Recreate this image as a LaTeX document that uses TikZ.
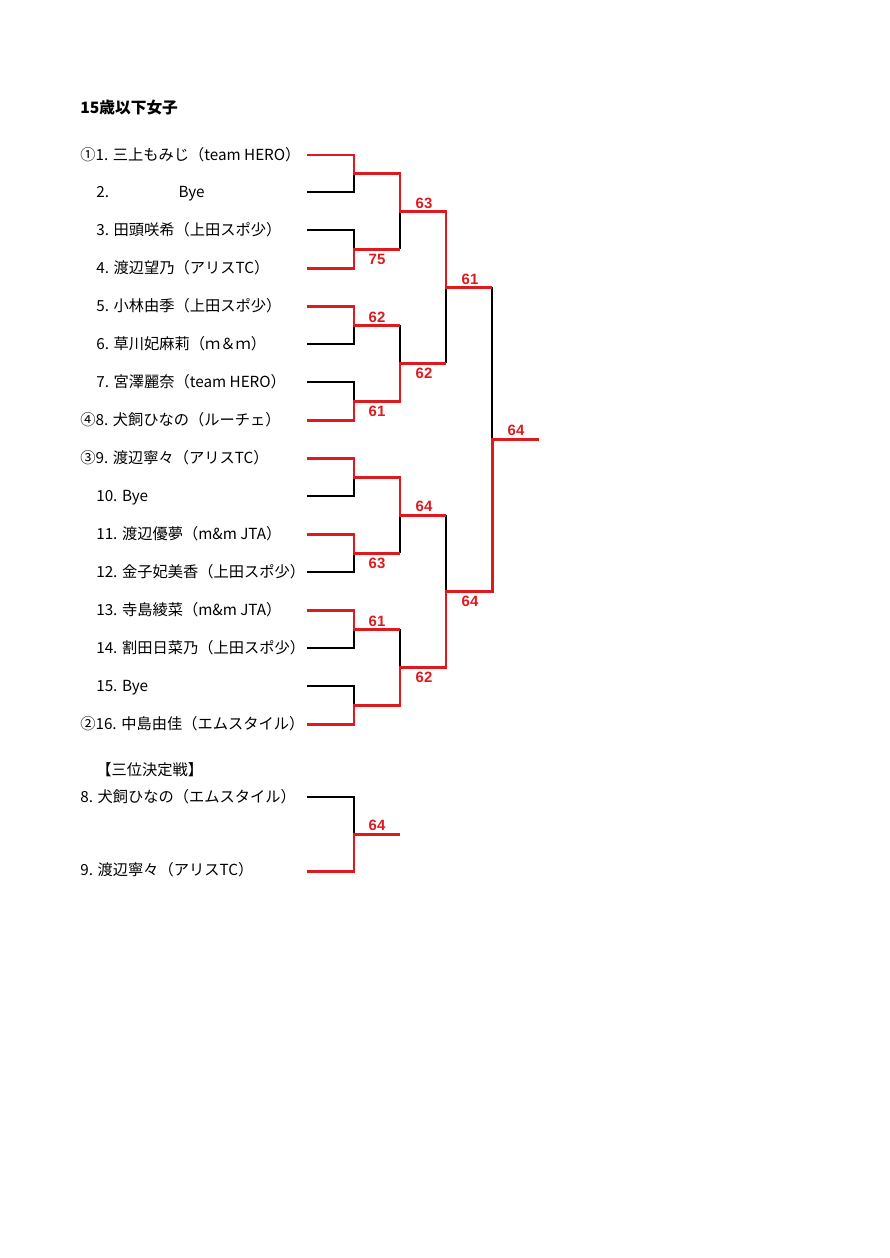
\documentclass[tikz,border=0pt]{standalone}
\usepackage{fontspec}
\setmainfont{Noto Sans CJK JP}
\newfontfamily\scorefont{Liberation Sans}
\definecolor{bracketred}{RGB}{222,26,30}
\begin{document}
\begin{tikzpicture}[x=0.6688pt,y=-0.6688pt,
  entry/.style={anchor=west,inner sep=0pt,text height=9pt,text depth=1.5pt,font=\fontsize{10.2}{12}\selectfont},
  score/.style={inner sep=0pt,text=bracketred,font=\scorefont\bfseries\fontsize{10}{11}\selectfont},
  win/.style={draw=bracketred,line width=2pt},
  lose/.style={draw=black,line width=0.8pt}]
\useasboundingbox (0,0) rectangle (890,1258);

\node[entry,font=\bfseries\fontsize{10.5}{12}\selectfont] (title) at (80,108) {15歳以下女子};

% player names
\node[entry] (p1) at (80,155) {①1. 三上もみじ（team HERO）};
\node[entry] (p2) at (96,192) {\makebox[55pt][l]{2.}Bye};
\node[entry] (p3) at (96,230) {3. 田頭咲希（上田スポ少）};
\node[entry] (p4) at (96,268) {4. 渡辺望乃（アリスTC）};
\node[entry] (p5) at (96,306) {5. 小林由季（上田スポ少）};
\node[entry] (p6) at (96,344) {6. 草川妃麻莉（ｍ＆ｍ）};
\node[entry] (p7) at (96,382) {7. 宮澤麗奈（team HERO）};
\node[entry] (p8) at (80,420) {④8. 犬飼ひなの（ルーチェ）};
\node[entry] (p9) at (80,458) {③9. 渡辺寧々（アリスTC）};
\node[entry] (p10) at (96,496) {10. Bye};
\node[entry] (p11) at (96,534) {11. 渡辺優夢（m\&m JTA）};
\node[entry] (p12) at (96,572) {12. 金子妃美香（上田スポ少）};
\node[entry] (p13) at (96,610) {13. 寺島綾菜（m\&m JTA）};
\node[entry] (p14) at (96,648) {14. 割田日菜乃（上田スポ少）};
\node[entry] (p15) at (96,686) {15. Bye};
\node[entry] (p16) at (80,724) {②16. 中島由佳（エムスタイル）};

% line starts
\coordinate (a1) at (307,155);
\coordinate (a2) at (307,192);
\coordinate (a3) at (307,230);
\coordinate (a4) at (307,268);
\coordinate (a5) at (307,306);
\coordinate (a6) at (307,344);
\coordinate (a7) at (307,382);
\coordinate (a8) at (307,420);
\coordinate (a9) at (307,458);
\coordinate (a10) at (307,496);
\coordinate (a11) at (307,534);
\coordinate (a12) at (307,572);
\coordinate (a13) at (307,610);
\coordinate (a14) at (307,648);
\coordinate (a15) at (307,686);
\coordinate (a16) at (307,724);

% round 1
\coordinate (r1) at (354,173.5); \coordinate (b1) at (400,173.5);
\coordinate (r2) at (354,249);   \coordinate (b2) at (400,249);
\coordinate (r3) at (354,325);   \coordinate (b3) at (400,325);
\coordinate (r4) at (354,401);   \coordinate (b4) at (400,401);
\coordinate (r5) at (354,477);   \coordinate (b5) at (400,477);
\coordinate (r6) at (354,553);   \coordinate (b6) at (400,553);
\coordinate (r7) at (354,629);   \coordinate (b7) at (400,629);
\coordinate (r8) at (354,705);   \coordinate (b8) at (400,705);
% round 2
\coordinate (q1) at (400,211); \coordinate (c1) at (446,211);
\coordinate (q2) at (400,363); \coordinate (c2) at (446,363);
\coordinate (q3) at (400,515); \coordinate (c3) at (446,515);
\coordinate (q4) at (400,667); \coordinate (c4) at (446,667);
% semis and final
\coordinate (s1) at (446,287); \coordinate (d1) at (492,287);
\coordinate (s2) at (446,591); \coordinate (d2) at (492,591);
\coordinate (f) at (492,439);  \coordinate (fe) at (539,439);

% losing lines
\draw[lose] (a2) -| (r1);
\draw[lose] (a3) -| (r2);
\draw[lose] (a6) -| (r3);
\draw[lose] (a7) -| (r4);
\draw[lose] (a10) -| (r5);
\draw[lose] (a12) -| (r6);
\draw[lose] (a14) -| (r7);
\draw[lose] (a15) -| (r8);
\draw[lose] (b2) -- (q1);
\draw[lose] (b3) -- (q2);
\draw[lose] (b6) -- (q3);
\draw[lose] (b7) -- (q4);
\draw[lose] (c2) -- (s1);
\draw[lose] (c3) -- (s2);
\draw[lose] (d1) -- (f);

% winning lines
\draw[win] (a1) -| (r1) -- (b1) -- (q1) -- (c1) -- (s1) -- (d1);
\draw[win] (a4) -| (r2) -- (b2);
\draw[win] (a5) -| (r3) -- (b3);
\draw[win] (a8) -| (r4) -- (b4) -- (q2) -- (c2);
\draw[win] (a9) -| (r5) -- (b5) -- (q3) -- (c3);
\draw[win] (a11) -| (r6) -- (b6);
\draw[win] (a13) -| (r7) -- (b7);
\draw[win] (a16) -| (r8) -- (b8) -- (q4) -- (c4) -- (s2) -- (d2) -- (f) -- (fe);

% scores
\node[score] (m2) at (377,259) {75};
\node[score] (m3) at (377,317) {62};
\node[score] (m4) at (377,411) {61};
\node[score] (m6) at (377,563) {63};
\node[score] (m7) at (377,621) {61};
\node[score] (n1) at (424,203) {63};
\node[score] (n2) at (424,373) {62};
\node[score] (n3) at (424,506) {64};
\node[score] (n4) at (424,677) {62};
\node[score] (sf1) at (470,279) {61};
\node[score] (sf2) at (470,601) {64};
\node[score] (fin) at (516,430) {64};

% third place
\node[entry] (third) at (96,770) {【三位決定戦】};
\node[entry] (t8) at (80,797) {8. 犬飼ひなの（エムスタイル）};
\node[entry] (t9) at (80,870) {9. 渡辺寧々（アリスTC）};
\coordinate (t1) at (307,797);
\coordinate (t2) at (307,871);
\coordinate (tr) at (354,834);
\coordinate (te) at (400,834);
\draw[lose] (t1) -| (tr);
\draw[win] (t2) -| (tr) -- (te);
\node[score] (tm) at (377,825) {64};
\end{tikzpicture}
\end{document}
